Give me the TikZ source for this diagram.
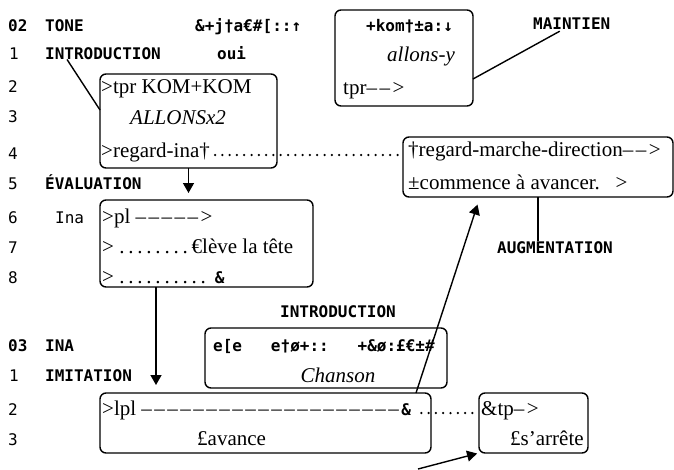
\documentclass[tikz,border=0pt]{standalone}
\usepackage{fontspec}
\setmainfont{Liberation Serif}
\newfontfamily\monofont{DejaVu Sans Mono}
\usetikzlibrary{arrows.meta}

\newcommand\serif{\fontsize{21}{24}\selectfont}
\newcommand\mono{\monofont\fontsize{16}{19}\selectfont}
\newcommand\monob{\monofont\bfseries\fontsize{16}{19}\selectfont}
\newcommand\dsh{–\kern2.5pt}
\newcommand\dt{.\kern3.8pt}

\tikzset{
  box/.style={draw, line width=1.4pt, rounded corners=6pt, inner sep=0pt, outer sep=0pt, anchor=north west},
  lab/.style={font=\monob, anchor=base west, inner sep=0pt},
  num/.style={font=\mono, anchor=base west, inner sep=0pt},
  txt/.style={font=\serif, anchor=base west, inner sep=0pt},
  link/.style={line width=1.4pt},
  arr/.style={line width=1.4pt, -{Triangle[length=10pt,width=11pt]}},
  leader/.style={line width=2.5pt, line cap=round, dash pattern=on 0pt off 7.3pt},
}

\begin{document}
\begin{tikzpicture}[x=1pt,y=-1pt]
\useasboundingbox (0,0) rectangle (674,469);

% boxes
\node[box, minimum width=138pt, minimum height=96pt] (boxB) at (335,10) {};
\node[box, minimum width=177pt, minimum height=94pt] (boxA) at (100,74) {};
\node[box, minimum width=270pt, minimum height=60pt] (boxC) at (403,137) {};
\node[box, minimum width=213pt, minimum height=87pt] (boxD) at (100,200) {};
\node[box, minimum width=242pt, minimum height=60pt] (boxE) at (205,328) {};
\node[box, minimum width=331pt, minimum height=60pt] (boxF) at (100,393) {};
\node[box, minimum width=109pt, minimum height=60pt] (boxG) at (479,393) {};

% left column
\node[lab] (n02) at (8,31) {02};
\node[lab] (tone) at (45,31) {TONE};
\node[num] (n1) at (9,59) {1};
\node[lab] (intro) at (45,59) {INTRODUCTION};
\node[num] (n2) at (8,92) {2};
\node[num] (n3) at (8,122) {3};
\node[num] (n4) at (8,159) {4};
\node[num] (n5) at (8,189) {5};
\node[lab] (eval) at (45,189) {ÉVALUATION};
\node[num] (n6) at (8,223) {6};
\node[num] (ina) at (55,223) {Ina};
\node[num] (n7) at (8,253) {7};
\node[num] (n8) at (8,283) {8};
\node[lab] (n03) at (8,351) {03};
\node[lab] (inalab) at (45,351) {INA};
\node[num] (m1) at (9,381) {1};
\node[lab] (imit) at (45,381) {IMITATION};
\node[num] (m2) at (8,415) {2};
\node[num] (m3) at (8,445) {3};

% top row
\node[lab] (tonecode) at (195,31) {\&+j†a€\#[::↑};
\node[lab] (oui) at (217,59) {oui};
\node[lab] (maintien) at (533,29) {MAINTIEN};
\node[lab] (augment) at (497,253) {AUGMENTATION};
\node[lab] (intromid) at (280,317) {INTRODUCTION};

% box B
\node[lab] (kom) at (366,31) {+kom†±a:↓};
\node[txt, font=\serif\itshape] (allons) at (387,61) {allons-y};
\node[txt] (tprB) at (343,94) {tpr\dsh\dsh>};

% box A
\node[txt] (tpr) at (101,93) {>tpr KOM+KOM};
\node[txt, font=\serif\itshape] (allonsx) at (130,124) {ALLONSx2};
\node[txt] (regard) at (101,157) {>regard-ina†};

% box C
\node[txt] (marche) at (408,156) {†regard-marche-direction\dsh\dsh>};
\node[txt] (avancer) at (408,189) {±commence à avancer.\ \ \ >};

% box D
\node[txt] (pl) at (102,223) {>pl \dsh\dsh\dsh\dsh\dsh>};
\node[txt] (tete) at (102,253) {> \dt\dt\dt\dt\dt\dt\dt\dt€lève la tête};
\node[txt] (pl8) at (102,283) {> \dt\dt\dt\dt\dt\dt\dt\dt\dt\dt\kern5pt{\monob\&}};

% box E
\node[lab] (code) at (213,351) {e[e\ \ \ e†ø+::\ \ \ +\&ø:£€±\#};
\node[txt, font=\serif\itshape, anchor=base] (chanson) at (338,382) {Chanson};

% box F and G
\node[txt] (lpl) at (102,415) {>lpl \dsh\dsh\dsh\dsh\dsh\dsh\dsh\dsh\dsh\dsh\dsh\dsh\dsh\dsh\dsh\dsh\dsh\dsh\dsh\dsh{\monob\&}};
\node[txt] (avance) at (197,445) {£avance};
\node[txt] (tp) at (481,415) {\&tp\dsh>};
\node[txt] (arrete) at (510,445) {£s’arrête};

% leaders
\draw[leader] ([xshift=5pt,yshift=2pt]regard.base east) -- ([xshift=-4pt,yshift=2pt]regard.base east -| boxC.west);
\draw[leader] ([xshift=10pt,yshift=2pt]lpl.base east) -- ([xshift=-4pt,yshift=2pt]lpl.base east -| boxG.west);

% connectors
\draw[link] ([xshift=22pt]intro.south west) -- ([yshift=11pt]boxA.west);
\draw[link] ([yshift=-21pt]boxB.east) -- ([xshift=-12pt,yshift=-2pt]maintien.south);
\draw[link] (boxC.south) -- (boxC.south |- augment.north);
\draw[arr, shorten >=7pt] (boxA.south) -- (boxA.south |- boxD.north);
\draw[arr, shorten >=8pt] ([xshift=56pt]boxD.south west) -- ([xshift=56pt]boxF.north west);
\draw[arr, shorten >=8pt] ([xshift=-15pt]boxF.north east) -- ([xshift=77pt]boxC.south west);
\coordinate (tailG) at (418,469);
\draw[arr, shorten >=2pt] (tailG) -- (boxG.south west);
\end{tikzpicture}
\end{document}
